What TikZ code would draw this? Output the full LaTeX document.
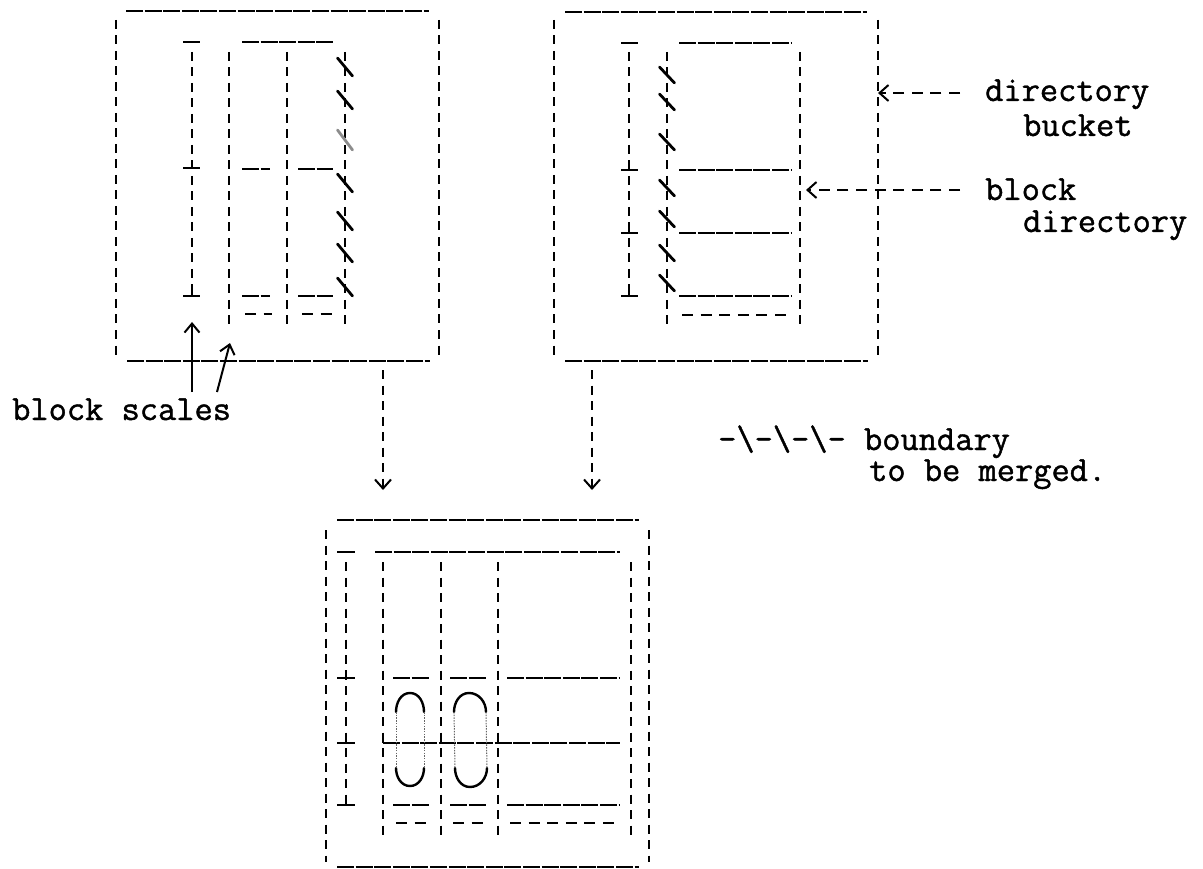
\documentclass[tikz,border=0pt]{standalone}
\usepackage{fontspec}
\newfontfamily\typewriter[FakeBold=1.2]{Latin Modern Mono}
\usetikzlibrary{arrows.meta}
\begin{document}
\begin{tikzpicture}[x=1pt,y=-1pt,
  vrule/.style={line width=2.8pt, dash pattern=on 9pt off 6.5pt},
  hrule/.style={line width=2.5pt, dash pattern=on 17pt off 1.6pt},
  hdash/.style={line width=2.5pt, dash pattern=on 11pt off 7.6pt},
  tick/.style={line width=2.5pt},
  cut/.style={line width=2.8pt, line cap=round},
  oval/.style={line width=2.4pt, line cap=round},
  oside/.style={line width=1pt, black!60, dash pattern=on 1.5pt off 1.2pt},
  lbl/.style={font=\typewriter\fontsize{35.4}{35.4}\selectfont, inner sep=0pt, anchor=base west},
  ptr/.style={line width=2pt, -{Straight Barb[length=9pt,width=15pt,line width=2pt]}},
  dptr/.style={line width=2.5pt, dash pattern=on 11pt off 7.6pt, -{Straight Barb[length=9pt,width=16pt,line width=2pt]}},
  vptr/.style={line width=2.8pt, dash pattern=on 9pt off 6.5pt, -{Straight Barb[length=9pt,width=16pt,line width=2pt]}}
]
\useasboundingbox (0,0) rectangle (1203,869);

% ---------------- left bucket ----------------
\draw[hrule] (126,11) -- (429,11);
\draw[hrule] (127,361) -- (430,361);
\draw[vrule] (116,20) -- (116,360);
\draw[vrule] (439,20) -- (439,360);
% block scale
\draw[tick] (183,42) -- (200,42);
\draw[vrule] (192,52) -- (192,296);
\foreach \yy in {168,296} \draw[tick] (183,\yy) -- (200,\yy) (192,\yy) -- (192,\yy-8);
% columns
\foreach \xx in {229,287,345} \draw[vrule] (\xx,52) -- (\xx,328);
\draw[hrule] (242,42) -- (334,42);
\foreach \yy in {169,296} {
  \draw[hrule] (242,\yy) -- (270,\yy);
  \draw[hrule] (298,\yy) -- (333,\yy);
}
\draw[hdash] (245,314) -- (272,314);
\draw[hdash] (302,314) -- (333,314);
% boundary marks
\foreach \yy in {67,100,183,221,253,287}
  \draw[cut] (345-7.5,\yy-9) -- (345+7.5,\yy+9);
\draw[cut, black!45] (345-7.5,140-10) -- (345+7.5,140+10);

% ---------------- right bucket ----------------
\draw[hrule] (565,12) -- (867,12);
\draw[hrule] (565,361) -- (868,361);
\draw[vrule] (554,20) -- (554,360);
\draw[vrule] (878,20) -- (878,360);
% block scale
\draw[tick] (621,43) -- (638,43);
\draw[vrule] (629,52) -- (629,296);
\foreach \yy in {170,233,296} \draw[tick] (621,\yy) -- (638,\yy) (629,\yy) -- (629,\yy-8);
% columns
\foreach \xx in {667,800} \draw[vrule] (\xx,52) -- (\xx,328);
\foreach \yy in {43,170,233,296} \draw[hrule] (679,\yy) -- (791,\yy);
\draw[hdash] (682,315) -- (791,315);
% boundary marks
\foreach \yy in {75,102,142,188,219,253,283}
  \draw[cut] (667-7.5,\yy-8) -- (667+7.5,\yy+8);

% ---------------- merged bucket ----------------
\draw[hrule] (337,520) -- (639,520);
\draw[hrule] (337,867) -- (639,867);
\draw[vrule] (326,530) -- (326,862);
\draw[vrule] (649,530) -- (649,862);
% block scale
\draw[tick] (337,552) -- (355,552);
\draw[vrule] (346,562) -- (346,805);
\foreach \yy in {678,743,805} \draw[tick] (337,\yy) -- (355,\yy) (346,\yy) -- (346,\yy-8);
% columns
\foreach \xx in {383,441,498,631} \draw[vrule] (\xx,562) -- (\xx,837);
\draw[hrule] (375,552) -- (620,552);
\foreach \yy in {678,805} {
  \draw[hrule] (393,\yy) -- (430,\yy);
  \draw[hrule] (450,\yy) -- (487,\yy);
  \draw[hrule] (507,\yy) -- (620,\yy);
}
\draw[hrule] (383,743) -- (620,743);
\draw[tick] (383,743) -- (383,735);
\draw[hdash] (396,823) -- (430,823);
\draw[hdash] (453,823) -- (487,823);
\draw[hdash] (510,823) -- (620,823);
% merge marks
\draw[oval] (396,712) to[out=90,in=180] (410,693) to[out=0,in=90] (424,712);
\draw[oval] (396,768) to[out=-90,in=180] (410,786) to[out=0,in=-90] (424,768);
\draw[oside] (396,712) -- (396,768) (424,712) -- (424,768);
\draw[oval] (454,712) to[out=90,in=180] (469,693) to[out=0,in=90] (486,712);
\draw[oval] (455,768) to[out=-90,in=180] (470,787) to[out=0,in=-90] (487,768);
\draw[oside] (454,712) -- (455,768) (486,712) -- (487,768);

% ---------------- merge arrows ----------------
\coordinate (leftout) at (383,370);
\coordinate (leftin) at (383,490);
\coordinate (rightout) at (592,370);
\coordinate (rightin) at (592,490);
\draw[vptr] (leftout) -- (leftin);
\draw[vptr] (rightout) -- (rightin);

% ---------------- labels ----------------
\node[lbl] (scales) at (12,420) {block scales};
\coordinate (scaleA) at (192,392);
\coordinate (scaleAtip) at (192,322);
\coordinate (scaleB) at (217,392);
\coordinate (scaleBtip) at (230,343);
\draw[ptr] (scaleA) -- (scaleAtip);
\draw[ptr] (scaleB) -- (scaleBtip);

\node[lbl] (dirbucket) at (985,101) {directory};
\node[lbl] (bucket) at (1023,136) {bucket};
\coordinate (dirbucketfrom) at (960,93);
\coordinate (dirbuckettip) at (878,93);
\draw[dptr] (dirbucketfrom) -- (dirbuckettip);

\node[lbl] (blk) at (985,200) {block};
\node[lbl] (blkdir) at (1023,232) {directory};
\coordinate (blkfrom) at (960,190);
\coordinate (blktip) at (806,190);
\draw[dptr] (blkfrom) -- (blktip);

\node[lbl] (legend) at (718,450) {-\textbackslash-\textbackslash-\textbackslash- boundary};
\node[lbl] (legend2) at (869,481) {to be merged.};
\end{tikzpicture}
\end{document}
